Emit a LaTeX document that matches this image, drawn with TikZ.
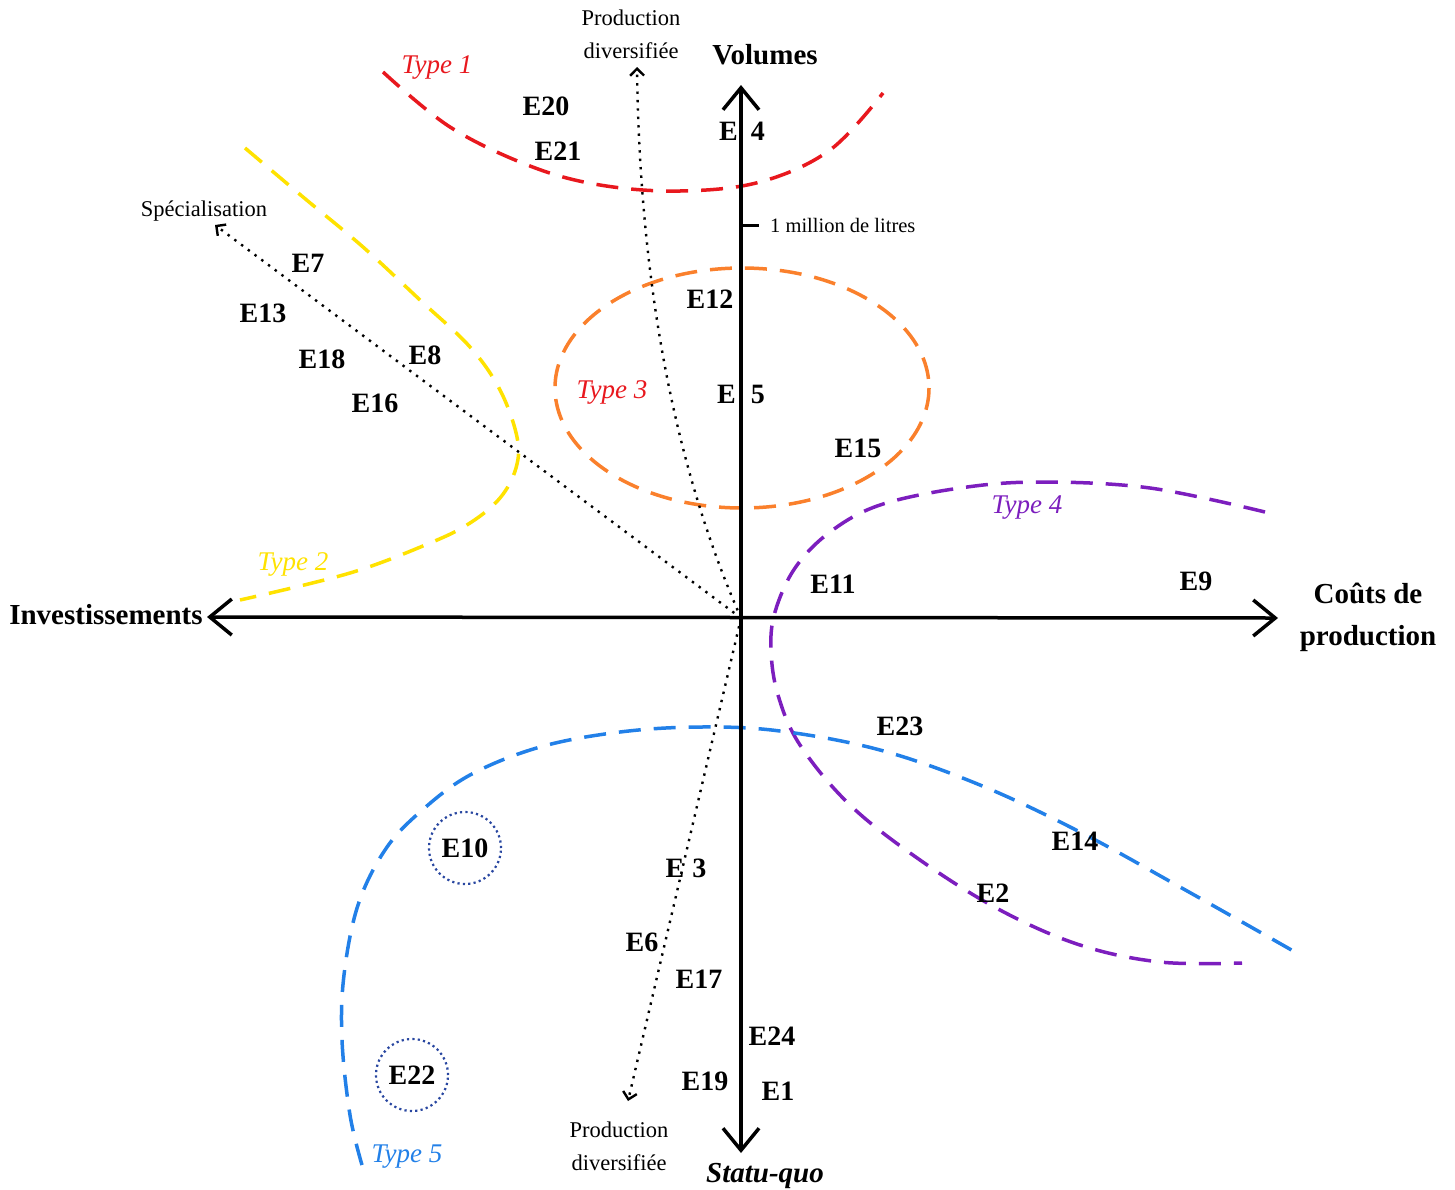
\documentclass[tikz,border=0pt]{standalone}
\usepackage{fontspec}
\setmainfont{Liberation Serif}
\usetikzlibrary{arrows.meta}
\definecolor{cred}{RGB}{232,24,30}
\definecolor{cyellow}{RGB}{255,226,0}
\definecolor{corange}{RGB}{250,128,44}
\definecolor{cpurple}{RGB}{124,30,190}
\definecolor{cblue}{RGB}{34,128,232}
\definecolor{cnavy}{RGB}{40,70,160}
\begin{document}
\begin{tikzpicture}[x=1pt,y=-1pt,
  lab/.style={font=\fontsize{28}{32}\selectfont\bfseries, inner sep=0pt},
  axlab/.style={font=\fontsize{29}{42}\selectfont\bfseries, inner sep=0pt, align=center},
  small/.style={font=\fontsize{22.5}{33}\selectfont, inner sep=0pt, align=center},
  typ/.style={font=\fontsize{27}{30}\selectfont\itshape, inner sep=0pt},
  axisline/.style={line width=3.5pt, {Straight Barb[length=22pt,width=36pt]}-{Straight Barb[length=22pt,width=36pt]}},
  dotarrow/.style={line width=2.4pt, dash pattern=on 2.4pt off 6pt, -{Straight Barb[length=7pt,width=14pt]}},
  typecurve/.style={line width=3.5pt, dash pattern=on 22pt off 13pt},
  ecircle/.style={draw=cnavy, circle, line width=2.2pt, dash pattern=on 2.2pt off 3.2pt, minimum size=72pt, inner sep=0pt, font=\fontsize{28}{32}\selectfont\bfseries},
  ]
\useasboundingbox (0,0) rectangle (1455,1189);

% ---- type curves
\draw[typecurve, cred] plot[smooth, tension=0.6] coordinates {(383,72) (450,127) (530,166) (600,185) (680,191) (760,182) (830,150) (883,93)};
\draw[typecurve, cyellow] plot[smooth, tension=0.6] coordinates {(245,148) (303,197) (363,247) (420,300) (470,347) (500,390) (517,437) (516,468) (500,498) (470,523) (430,543) (350,573) (240,600)};
\draw[typecurve, corange] (742,388) ellipse [x radius=187, y radius=120];
\draw[typecurve, cpurple] plot[smooth, tension=0.6] coordinates {(1265,512) (1150,488) (1040,482) (960,488) (880,505) (830,532) (795,568) (775,612) (771,650) (778,695) (800,745) (850,805) (920,860) (1000,910) (1080,945) (1160,962) (1242,963)};
\draw[typecurve, cblue] plot[smooth, tension=0.6] coordinates {(362,1165) (350,1115) (342,1040) (344,975) (358,905) (385,850) (420,812) (470,775) (540,747) (620,732) (700,727) (780,731) (880,750) (980,785) (1080,832) (1180,887) (1295,952)};

% ---- axes
\coordinate (O) at (741,618);
\coordinate (top) at (741,85);
\coordinate (bot) at (741,1153);
\coordinate (left) at (207,617);
\coordinate (right) at (1278,618);
\draw[axisline] (bot) -- (top);
\draw[axisline] (left) -- (right);

% tick
\coordinate (tickA) at (741,225);
\coordinate (tickB) at (759,225);
\draw[line width=3pt] (tickA) -- (tickB);
\node[small, font=\fontsize{20.5}{26}\selectfont, anchor=west] (million) at (770,225) {1 million de litres};

% ---- axis labels
\node[axlab] (volumes) at (765,55) {Volumes};
\node[axlab, font=\fontsize{29}{32}\selectfont\bfseries\itshape] (statu) at (765,1176) {Statu-quo};
\node[axlab] (invest) at (106,615) {Investissements};
\node[axlab] (couts) at (1368,617) {Coûts de\\production};

% ---- dotted arrows
\coordinate (specTip) at (215,225);
\coordinate (prodTopTip) at (637,67);
\coordinate (prodBotTip) at (628,1101);
\node[small] (spec) at (204,211) {Spécialisation};
\node[small] (prodTop) at (631,34) {Production\\diversifiée};
\node[small] (prodBot) at (619,1146) {Production\\diversifiée};
\draw[dotarrow] (O) -- (specTip);
\draw[dotarrow] (O) .. controls (680,480) and (640,300) .. (prodTopTip);
\draw[dotarrow] (O) -- (prodBotTip);

% ---- type labels
\node[typ, text=cred] (t1) at (437,67) {Type 1};
\node[typ, text=cyellow] (t2) at (293,564) {Type 2};
\node[typ, text=cred] (t3) at (612,392) {Type 3};
\node[typ, text=cpurple] (t4) at (1027,508) {Type 4};
\node[typ, text=cblue] (t5) at (407,1157) {Type 5};

% ---- E labels
\node[lab] (E20) at (546,106) {E20};
\node[lab] (E21) at (558,151) {E21};
\node[lab] (E4) at (742,131) {E\hspace{13pt}4};
\node[lab] (E7) at (308,263) {E7};
\node[lab] (E13) at (263,313) {E13};
\node[lab] (E18) at (322,359) {E18};
\node[lab] (E8) at (425,355) {E8};
\node[lab] (E16) at (375,403) {E16};
\node[lab] (E12) at (710,299) {E12};
\node[lab] (E5) at (741,394) {E\hspace{15pt}5};
\node[lab] (E15) at (858,448) {E15};
\node[lab] (E11) at (833,584) {E11};
\node[lab] (E9) at (1196,581) {E9};
\node[lab] (E23) at (900,726) {E23};
\node[lab] (E14) at (1075,841) {E14};
\node[lab] (E2) at (993,893) {E2};
\node[lab] (E3) at (686,868) {E\hspace{8pt}3};
\node[lab] (E6) at (642,942) {E6};
\node[lab] (E17) at (699,979) {E17};
\node[lab] (E24) at (772,1036) {E24};
\node[lab] (E19) at (705,1081) {E19};
\node[lab] (E1) at (778,1091) {E1};
\node[ecircle] (E10) at (465,848) {E10};
\node[ecircle] (E22) at (412,1075) {E22};
\end{tikzpicture}
\end{document}
